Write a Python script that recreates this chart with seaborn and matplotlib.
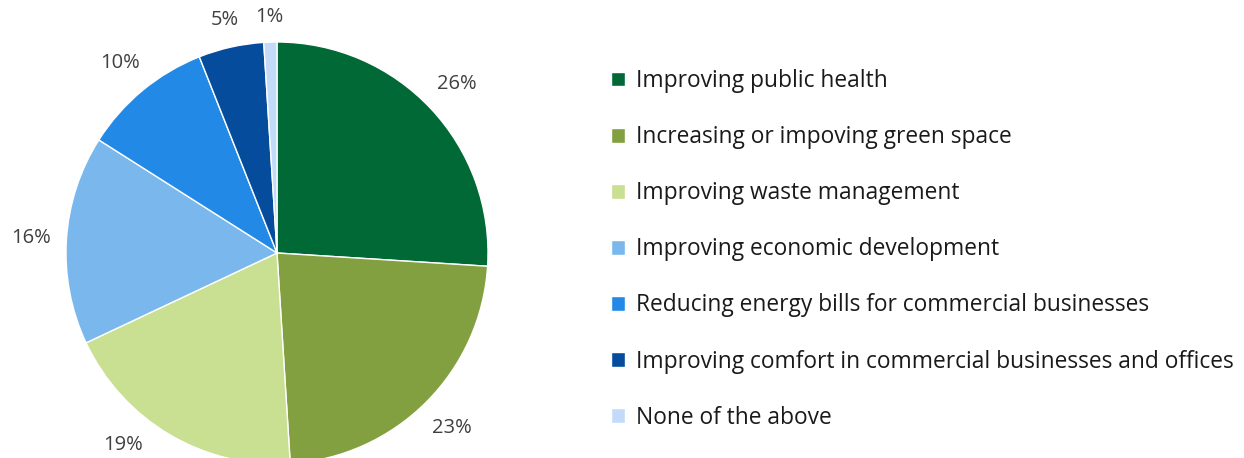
import matplotlib
matplotlib.use("Agg")
import matplotlib.pyplot as plt
import numpy as np
import seaborn as sns

sns.set_theme(style="white")
plt.rcParams['font.family'] = ['Open Sans', 'DejaVu Sans']

categories = [
    "Improving public health",
    "Increasing or impoving green space",
    "Improving waste management",
    "Improving economic development",
    "Reducing energy bills for commercial businesses",
    "Improving comfort in commercial businesses and offices",
    "None of the above",
]
values = [26, 23, 19, 16, 10, 5, 1]
colors = ["#006935", "#82A03F", "#C9DF91", "#79B7EC", "#228AE6", "#054C9C", "#C3DBF8"]

fig = plt.figure(figsize=(12.44, 4.58), dpi=100)
ax = fig.add_axes([66/1244, (458-464)/458, 422/1244, 422/458])
wedges, _ = ax.pie(
    values, colors=colors, startangle=90, counterclock=False,
    radius=1.0, wedgeprops=dict(edgecolor="white", linewidth=1.0),
)
ax.set_xlim(-1, 1)
ax.set_ylim(-1, 1)
ax.set_aspect("equal")
ax.axis("off")

# percentage labels outside each wedge, box edge at a fixed gap from the rim,
# slid along the rim toward the horizontal when needed to stay inside the figure
fig.canvas.draw()
renderer = fig.canvas.get_renderer()
px_per_unit = ax.transData.transform((1, 0))[0] - ax.transData.transform((0, 0))[0]
gap = 0.07
margin_px = 3
for w, v in zip(wedges, values):
    mid = (w.theta1 + w.theta2) / 2
    mid = (mid + 180) % 360 - 180
    t = ax.text(0, 0, f"{v}%", ha="center", va="center", fontsize=14.5,
                color="#404040")
    t.set_clip_on(False)
    bb = t.get_window_extent(renderer)

    def place(deg):
        th = np.deg2rad(deg)
        c, s = np.cos(th), np.sin(th)
        ext = (bb.width / 2 * abs(c) + bb.height / 2 * abs(s)) / px_per_unit
        d = 1 + gap + ext
        return d * c, d * s

    if np.cos(np.deg2rad(mid)) < 0:
        target = -180 if mid < 0 else 180
    else:
        target = 0
    deg = mid
    for _ in range(400):
        x, y = place(deg)
        ypx = ax.transData.transform((x, y))[1]
        if (ypx - bb.height / 2 >= margin_px
                and ypx + bb.height / 2 <= fig.bbox.height - margin_px):
            break
        deg += 0.25 * np.sign(target - deg)
    t.set_position((x, y))

leg = fig.legend(
    wedges, categories, loc="upper left",
    bbox_to_anchor=(611/1244, 1-69/458),
    frameon=False, fontsize=16.4, handlelength=0.63, handleheight=0.63,
    handletextpad=0.48, labelspacing=1.41, borderaxespad=0, borderpad=0,
    labelcolor="#1a1a1a",
)
fig.savefig("out.png", dpi=100)
